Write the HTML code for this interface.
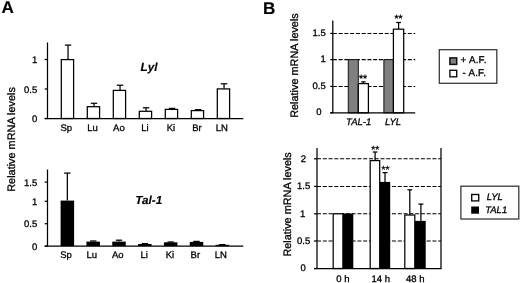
<!DOCTYPE html>
<html><head><meta charset="utf-8"><title>Figure</title>
<style>html,body{margin:0;padding:0;background:#fff;overflow:hidden;}svg{display:block;}</style></head>
<body><svg width="520" height="283" viewBox="0 0 520 283" font-family="'Liberation Sans', sans-serif" text-rendering="geometricPrecision">
<defs><filter id="soft" x="0" y="0" width="520" height="283" filterUnits="userSpaceOnUse"><feGaussianBlur stdDeviation="0.35"/></filter></defs>
<rect x="0" y="0" width="520" height="283" fill="#ffffff"/>
<g filter="url(#soft)">
<text x="1.45" y="13.4" font-size="17.1" text-anchor="start" font-weight="bold" font-style="normal" fill="#000" stroke="#000" stroke-width="0.15">A</text>
<text x="263.1" y="13.5" font-size="17.1" text-anchor="start" font-weight="bold" font-style="normal" fill="#000" stroke="#000" stroke-width="0.15">B</text>
<line x1="47.5" y1="42.5" x2="47.5" y2="119.0" stroke="#000" stroke-width="1.25"/>
<line x1="44.7" y1="118.5" x2="243.3" y2="118.5" stroke="#000" stroke-width="1.25"/>
<line x1="44.7" y1="59.5" x2="47.5" y2="59.5" stroke="#000" stroke-width="1.25"/>
<text x="37.3" y="63.0" font-size="9.5" text-anchor="end" font-weight="normal" font-style="normal" fill="#000" stroke="#000" stroke-width="0.3">1</text>
<line x1="44.7" y1="89.0" x2="47.5" y2="89.0" stroke="#000" stroke-width="1.25"/>
<text x="37.3" y="92.5" font-size="9.5" text-anchor="end" font-weight="normal" font-style="normal" fill="#000" stroke="#000" stroke-width="0.3">0.5</text>
<line x1="44.7" y1="118.5" x2="47.5" y2="118.5" stroke="#000" stroke-width="1.25"/>
<text x="37.3" y="122.0" font-size="9.5" text-anchor="end" font-weight="normal" font-style="normal" fill="#000" stroke="#000" stroke-width="0.3">0</text>
<line x1="68.04999999999998" y1="45.1" x2="68.04999999999998" y2="59.6" stroke="#000" stroke-width="1.25"/>
<line x1="64.84999999999998" y1="45.1" x2="71.24999999999999" y2="45.1" stroke="#000" stroke-width="1.25"/>
<rect x="61.3" y="59.6" width="12.3" height="58.9" fill="#fff" stroke="#000" stroke-width="1.25"/>
<text x="66.3" y="131.4" font-size="9.5" text-anchor="middle" font-weight="normal" font-style="normal" fill="#000" stroke="#000" stroke-width="0.3">Sp</text>
<line x1="94.04999999999998" y1="103.3" x2="94.04999999999998" y2="106.7" stroke="#000" stroke-width="1.25"/>
<line x1="90.84999999999998" y1="103.3" x2="97.24999999999999" y2="103.3" stroke="#000" stroke-width="1.25"/>
<rect x="87.3" y="106.7" width="12.3" height="11.8" fill="#fff" stroke="#000" stroke-width="1.25"/>
<text x="92.6" y="131.4" font-size="9.5" text-anchor="middle" font-weight="normal" font-style="normal" fill="#000" stroke="#000" stroke-width="0.3">Lu</text>
<line x1="120.04999999999998" y1="85.2" x2="120.04999999999998" y2="90.4" stroke="#000" stroke-width="1.25"/>
<line x1="116.84999999999998" y1="85.2" x2="123.24999999999999" y2="85.2" stroke="#000" stroke-width="1.25"/>
<rect x="113.3" y="90.4" width="12.3" height="28.1" fill="#fff" stroke="#000" stroke-width="1.25"/>
<text x="118.9" y="131.4" font-size="9.5" text-anchor="middle" font-weight="normal" font-style="normal" fill="#000" stroke="#000" stroke-width="0.3">Ao</text>
<line x1="146.05" y1="107.8" x2="146.05" y2="111.3" stroke="#000" stroke-width="1.25"/>
<line x1="142.85000000000002" y1="107.8" x2="149.25" y2="107.8" stroke="#000" stroke-width="1.25"/>
<rect x="139.3" y="111.3" width="12.3" height="7.2" fill="#fff" stroke="#000" stroke-width="1.25"/>
<text x="145.0" y="131.4" font-size="9.5" text-anchor="middle" font-weight="normal" font-style="normal" fill="#000" stroke="#000" stroke-width="0.3">Li</text>
<line x1="172.05" y1="108.4" x2="172.05" y2="109.4" stroke="#000" stroke-width="1.25"/>
<line x1="168.85000000000002" y1="108.4" x2="175.25" y2="108.4" stroke="#000" stroke-width="1.25"/>
<rect x="165.3" y="109.4" width="12.3" height="9.1" fill="#fff" stroke="#000" stroke-width="1.25"/>
<text x="170.9" y="131.4" font-size="9.5" text-anchor="middle" font-weight="normal" font-style="normal" fill="#000" stroke="#000" stroke-width="0.3">Ki</text>
<line x1="198.05" y1="109.6" x2="198.05" y2="110.6" stroke="#000" stroke-width="1.25"/>
<line x1="194.85000000000002" y1="109.6" x2="201.25" y2="109.6" stroke="#000" stroke-width="1.25"/>
<rect x="191.3" y="110.6" width="12.3" height="7.9" fill="#fff" stroke="#000" stroke-width="1.25"/>
<text x="197.0" y="131.4" font-size="9.5" text-anchor="middle" font-weight="normal" font-style="normal" fill="#000" stroke="#000" stroke-width="0.3">Br</text>
<line x1="224.05" y1="83.8" x2="224.05" y2="88.9" stroke="#000" stroke-width="1.25"/>
<line x1="220.85000000000002" y1="83.8" x2="227.25" y2="83.8" stroke="#000" stroke-width="1.25"/>
<rect x="217.3" y="88.9" width="12.3" height="29.6" fill="#fff" stroke="#000" stroke-width="1.25"/>
<text x="221.8" y="131.4" font-size="9.5" text-anchor="middle" font-weight="normal" font-style="normal" fill="#000" stroke="#000" stroke-width="0.3">LN</text>
<text x="149" y="71.3" font-size="11.8" text-anchor="middle" font-weight="bold" font-style="italic" fill="#000" stroke="#000" stroke-width="0.15">Lyl</text>
<text x="14.6" y="139.4" font-size="10.9" text-anchor="middle" font-weight="normal" font-style="normal" fill="#000" stroke="#000" stroke-width="0.3" transform="rotate(-90 14.6 139.4)">Relative mRNA levels</text>
<line x1="47.5" y1="169.5" x2="47.5" y2="246.6" stroke="#000" stroke-width="1.25"/>
<line x1="44.7" y1="246.1" x2="243.3" y2="246.1" stroke="#000" stroke-width="1.25"/>
<line x1="44.7" y1="182.1" x2="47.5" y2="182.1" stroke="#000" stroke-width="1.25"/>
<text x="37.3" y="185.6" font-size="9.5" text-anchor="end" font-weight="normal" font-style="normal" fill="#000" stroke="#000" stroke-width="0.3">1.5</text>
<line x1="44.7" y1="201.3" x2="47.5" y2="201.3" stroke="#000" stroke-width="1.25"/>
<text x="37.3" y="204.8" font-size="9.5" text-anchor="end" font-weight="normal" font-style="normal" fill="#000" stroke="#000" stroke-width="0.3">1</text>
<line x1="44.7" y1="223.7" x2="47.5" y2="223.7" stroke="#000" stroke-width="1.25"/>
<text x="37.3" y="227.2" font-size="9.5" text-anchor="end" font-weight="normal" font-style="normal" fill="#000" stroke="#000" stroke-width="0.3">0.5</text>
<line x1="44.7" y1="246.1" x2="47.5" y2="246.1" stroke="#000" stroke-width="1.25"/>
<text x="37.3" y="249.6" font-size="9.5" text-anchor="end" font-weight="normal" font-style="normal" fill="#000" stroke="#000" stroke-width="0.3">0</text>
<line x1="67.35" y1="173.1" x2="67.35" y2="200.6" stroke="#000" stroke-width="1.25"/>
<line x1="64.14999999999999" y1="173.1" x2="70.55" y2="173.1" stroke="#000" stroke-width="1.25"/>
<rect x="60.6" y="200.6" width="13.5" height="45.5" fill="#000"/>
<text x="66.0" y="257.5" font-size="9.5" text-anchor="middle" font-weight="normal" font-style="normal" fill="#000" stroke="#000" stroke-width="0.3">Sp</text>
<line x1="93.18" y1="241.0" x2="93.18" y2="241.6" stroke="#000" stroke-width="1.25"/>
<line x1="89.98" y1="241.0" x2="96.38000000000001" y2="241.0" stroke="#000" stroke-width="1.25"/>
<rect x="86.43" y="241.6" width="13.5" height="4.5" fill="#000"/>
<text x="91.69999999999999" y="257.5" font-size="9.5" text-anchor="middle" font-weight="normal" font-style="normal" fill="#000" stroke="#000" stroke-width="0.3">Lu</text>
<line x1="119.00999999999999" y1="240.2" x2="119.00999999999999" y2="241.6" stroke="#000" stroke-width="1.25"/>
<line x1="115.80999999999999" y1="240.2" x2="122.21" y2="240.2" stroke="#000" stroke-width="1.25"/>
<rect x="112.26" y="241.6" width="13.5" height="4.5" fill="#000"/>
<text x="117.80000000000001" y="257.5" font-size="9.5" text-anchor="middle" font-weight="normal" font-style="normal" fill="#000" stroke="#000" stroke-width="0.3">Ao</text>
<line x1="144.84" y1="243.6" x2="144.84" y2="244.0" stroke="#000" stroke-width="1.25"/>
<line x1="141.64000000000001" y1="243.6" x2="148.04" y2="243.6" stroke="#000" stroke-width="1.25"/>
<rect x="138.09" y="244.0" width="13.5" height="2.1" fill="#000"/>
<text x="144.1" y="257.5" font-size="9.5" text-anchor="middle" font-weight="normal" font-style="normal" fill="#000" stroke="#000" stroke-width="0.3">Li</text>
<line x1="170.67" y1="242.0" x2="170.67" y2="242.3" stroke="#000" stroke-width="1.25"/>
<line x1="167.47" y1="242.0" x2="173.86999999999998" y2="242.0" stroke="#000" stroke-width="1.25"/>
<rect x="163.92" y="242.3" width="13.5" height="3.8" fill="#000"/>
<text x="170.0" y="257.5" font-size="9.5" text-anchor="middle" font-weight="normal" font-style="normal" fill="#000" stroke="#000" stroke-width="0.3">Ki</text>
<line x1="196.49999999999997" y1="241.4" x2="196.49999999999997" y2="241.9" stroke="#000" stroke-width="1.25"/>
<line x1="193.29999999999998" y1="241.4" x2="199.69999999999996" y2="241.4" stroke="#000" stroke-width="1.25"/>
<rect x="189.75" y="241.9" width="13.5" height="4.2" fill="#000"/>
<text x="195.3" y="257.5" font-size="9.5" text-anchor="middle" font-weight="normal" font-style="normal" fill="#000" stroke="#000" stroke-width="0.3">Br</text>
<line x1="222.32999999999998" y1="244.6" x2="222.32999999999998" y2="244.8" stroke="#000" stroke-width="1.25"/>
<line x1="219.13" y1="244.6" x2="225.52999999999997" y2="244.6" stroke="#000" stroke-width="1.25"/>
<rect x="215.58" y="244.8" width="13.5" height="1.3" fill="#000"/>
<text x="220.9" y="257.5" font-size="9.5" text-anchor="middle" font-weight="normal" font-style="normal" fill="#000" stroke="#000" stroke-width="0.3">LN</text>
<text x="148.8" y="203.5" font-size="11.7" text-anchor="middle" font-weight="bold" font-style="italic" fill="#000" stroke="#000" stroke-width="0.15">Tal-1</text>
<line x1="332.8" y1="33.4" x2="415.2" y2="33.4" stroke="#000" stroke-width="1.05" stroke-dasharray="4.05 1.72"/>
<line x1="332.8" y1="59.6" x2="415.2" y2="59.6" stroke="#000" stroke-width="1.05" stroke-dasharray="4.05 1.72"/>
<line x1="332.8" y1="86.4" x2="415.2" y2="86.4" stroke="#000" stroke-width="1.05" stroke-dasharray="4.05 1.72"/>
<rect x="348.3" y="59.6" width="10.0" height="53.2" fill="#808080" stroke="#111" stroke-width="1"/>
<line x1="363.4" y1="81.8" x2="363.4" y2="83.6" stroke="#000" stroke-width="1.25"/>
<line x1="361.2" y1="81.8" x2="365.59999999999997" y2="81.8" stroke="#000" stroke-width="1.25"/>
<rect x="358.3" y="83.6" width="10.1" height="29.2" fill="#fff" stroke="#000" stroke-width="1.25"/>
<rect x="383.9" y="59.6" width="9.5" height="53.2" fill="#808080" stroke="#111" stroke-width="1"/>
<line x1="398.6" y1="22.5" x2="398.6" y2="29.2" stroke="#000" stroke-width="1.25"/>
<line x1="396.20000000000005" y1="22.5" x2="401.0" y2="22.5" stroke="#000" stroke-width="1.25"/>
<rect x="393.4" y="29.2" width="10.3" height="83.6" fill="#fff" stroke="#000" stroke-width="1.25"/>
<line x1="332.8" y1="20.4" x2="332.8" y2="113.3" stroke="#000" stroke-width="1.25"/>
<line x1="330.3" y1="112.8" x2="415.2" y2="112.8" stroke="#000" stroke-width="1.25"/>
<line x1="330.3" y1="33.4" x2="332.8" y2="33.4" stroke="#000" stroke-width="1.25"/>
<text x="325.8" y="35.8" font-size="9.5" text-anchor="end" font-weight="normal" font-style="normal" fill="#000" stroke="#000" stroke-width="0.3">1.5</text>
<line x1="330.3" y1="59.6" x2="332.8" y2="59.6" stroke="#000" stroke-width="1.25"/>
<text x="325.8" y="62.0" font-size="9.5" text-anchor="end" font-weight="normal" font-style="normal" fill="#000" stroke="#000" stroke-width="0.3">1</text>
<line x1="330.3" y1="86.4" x2="332.8" y2="86.4" stroke="#000" stroke-width="1.25"/>
<text x="325.8" y="88.80000000000001" font-size="9.5" text-anchor="end" font-weight="normal" font-style="normal" fill="#000" stroke="#000" stroke-width="0.3">0.5</text>
<line x1="330.3" y1="112.8" x2="332.8" y2="112.8" stroke="#000" stroke-width="1.25"/>
<text x="321.6" y="115.2" font-size="9.5" text-anchor="end" font-weight="normal" font-style="normal" fill="#000" stroke="#000" stroke-width="0.3">0</text>
<text x="363.1" y="82.4" font-size="10.5" text-anchor="middle" font-weight="normal" font-style="normal" fill="#000" stroke="#000" stroke-width="0.3">**</text>
<text x="398.6" y="22.3" font-size="10.5" text-anchor="middle" font-weight="normal" font-style="normal" fill="#000" stroke="#000" stroke-width="0.3">**</text>
<text x="358.7" y="124.7" font-size="9.5" text-anchor="middle" font-weight="normal" font-style="italic" fill="#000" stroke="#000" stroke-width="0.3">TAL-1</text>
<text x="393.0" y="124.7" font-size="9.5" text-anchor="middle" font-weight="normal" font-style="italic" fill="#000" stroke="#000" stroke-width="0.3">LYL</text>
<text x="297.8" y="65.5" font-size="10.89" text-anchor="middle" font-weight="normal" font-style="normal" fill="#000" stroke="#000" stroke-width="0.3" transform="rotate(-90 297.8 65.5)">Relative mRNA levels</text>
<rect x="439.3" y="49.7" width="57.5" height="33.6" fill="#fff" stroke="#333" stroke-width="1.25"/>
<rect x="449.9" y="57.9" width="6.8" height="6.5" fill="#808080" stroke="#111" stroke-width="1.5"/>
<rect x="449.9" y="70.3" width="6.8" height="6.5" fill="#fff" stroke="#111" stroke-width="1.4"/>
<text letter-spacing="0.2" x="460.6" y="63.4" font-size="9.8" text-anchor="start" font-weight="normal" font-style="normal" fill="#000" stroke="#000" stroke-width="0.3">+ A.F.</text>
<text letter-spacing="0.2" x="462.6" y="76.0" font-size="9.8" text-anchor="start" font-weight="normal" font-style="normal" fill="#000" stroke="#000" stroke-width="0.3">- A.F.</text>
<line x1="317.0" y1="158.8" x2="441" y2="158.8" stroke="#000" stroke-width="1.05" stroke-dasharray="4.05 1.72"/>
<line x1="317.0" y1="186.4" x2="441" y2="186.4" stroke="#000" stroke-width="1.05" stroke-dasharray="4.05 1.72"/>
<line x1="317.0" y1="213.8" x2="441" y2="213.8" stroke="#000" stroke-width="1.05" stroke-dasharray="4.05 1.72"/>
<line x1="317.0" y1="241.0" x2="441" y2="241.0" stroke="#000" stroke-width="1.05" stroke-dasharray="4.05 1.72"/>
<rect x="333.2" y="213.8" width="9.7" height="54.7" fill="#fff" stroke="#000" stroke-width="1.25"/>
<rect x="342.9" y="213.5" width="10.4" height="55.0" fill="#000"/>
<line x1="375.1" y1="152.0" x2="375.1" y2="160.6" stroke="#000" stroke-width="1.25"/>
<line x1="372.8" y1="152.0" x2="377.40000000000003" y2="152.0" stroke="#000" stroke-width="1.25"/>
<rect x="370.2" y="160.6" width="9.5" height="107.9" fill="#fff" stroke="#000" stroke-width="1.25"/>
<line x1="385.0" y1="172.6" x2="385.0" y2="182.0" stroke="#000" stroke-width="1.25"/>
<line x1="382.5" y1="172.6" x2="387.5" y2="172.6" stroke="#000" stroke-width="1.25"/>
<rect x="379.7" y="181.9" width="10.5" height="86.6" fill="#000"/>
<line x1="409.8" y1="189.8" x2="409.8" y2="215.0" stroke="#000" stroke-width="1.25"/>
<line x1="407.40000000000003" y1="189.8" x2="412.2" y2="189.8" stroke="#000" stroke-width="1.25"/>
<rect x="404.8" y="215.0" width="10.0" height="53.5" fill="#fff" stroke="#000" stroke-width="1.25"/>
<line x1="420.9" y1="204.1" x2="420.9" y2="221.0" stroke="#000" stroke-width="1.25"/>
<line x1="418.4" y1="204.1" x2="423.4" y2="204.1" stroke="#000" stroke-width="1.25"/>
<rect x="414.8" y="220.9" width="10.9" height="47.6" fill="#000"/>
<line x1="317.0" y1="148" x2="317.0" y2="269.0" stroke="#000" stroke-width="1.25"/>
<line x1="441" y1="148" x2="441" y2="269.0" stroke="#000" stroke-width="1.25"/>
<line x1="314" y1="268.5" x2="441.5" y2="268.5" stroke="#000" stroke-width="1.25"/>
<line x1="314" y1="158.8" x2="317.0" y2="158.8" stroke="#000" stroke-width="1.25"/>
<line x1="314" y1="186.4" x2="317.0" y2="186.4" stroke="#000" stroke-width="1.25"/>
<line x1="314" y1="213.8" x2="317.0" y2="213.8" stroke="#000" stroke-width="1.25"/>
<line x1="314" y1="241.0" x2="317.0" y2="241.0" stroke="#000" stroke-width="1.25"/>
<line x1="314" y1="268.5" x2="317.0" y2="268.5" stroke="#000" stroke-width="1.25"/>
<text x="306.1" y="161.60000000000002" font-size="9.5" text-anchor="end" font-weight="normal" font-style="normal" fill="#000" stroke="#000" stroke-width="0.3">2</text>
<text x="310.3" y="189.20000000000002" font-size="9.5" text-anchor="end" font-weight="normal" font-style="normal" fill="#000" stroke="#000" stroke-width="0.3">1.5</text>
<text x="305.3" y="216.60000000000002" font-size="9.5" text-anchor="end" font-weight="normal" font-style="normal" fill="#000" stroke="#000" stroke-width="0.3">1</text>
<text x="310.3" y="243.8" font-size="9.5" text-anchor="end" font-weight="normal" font-style="normal" fill="#000" stroke="#000" stroke-width="0.3">0.5</text>
<text x="305.90000000000003" y="271.3" font-size="9.5" text-anchor="end" font-weight="normal" font-style="normal" fill="#000" stroke="#000" stroke-width="0.3">0</text>
<text x="375.2" y="153.0" font-size="10.3" text-anchor="middle" font-weight="normal" font-style="normal" fill="#000" stroke="#000" stroke-width="0.3">**</text>
<text x="385.5" y="173.1" font-size="10.3" text-anchor="middle" font-weight="normal" font-style="normal" fill="#000" stroke="#000" stroke-width="0.3">**</text>
<text x="342.9" y="281.8" font-size="9.5" text-anchor="middle" font-weight="normal" font-style="normal" fill="#000" stroke="#000" stroke-width="0.3">0 h</text>
<text x="380.7" y="281.8" font-size="9.5" text-anchor="middle" font-weight="normal" font-style="normal" fill="#000" stroke="#000" stroke-width="0.3">14 h</text>
<text x="415.3" y="281.8" font-size="9.5" text-anchor="middle" font-weight="normal" font-style="normal" fill="#000" stroke="#000" stroke-width="0.3">48 h</text>
<text x="291.5" y="204.4" font-size="10.87" text-anchor="middle" font-weight="normal" font-style="normal" fill="#000" stroke="#000" stroke-width="0.3" transform="rotate(-90 291.5 204.4)">Relative mRNA levels</text>
<rect x="460.9" y="186.2" width="57.9" height="32.8" fill="#fff" stroke="#333" stroke-width="1.25"/>
<rect x="471.7" y="194.5" width="7.0" height="6.4" fill="#fff" stroke="#111" stroke-width="1.4"/>
<rect x="471.2" y="206.5" width="7.8" height="7.2" fill="#000"/>
<text x="486.8" y="200.2" font-size="9.5" text-anchor="start" font-weight="normal" font-style="italic" fill="#000" stroke="#000" stroke-width="0.3">LYL</text>
<text x="485.2" y="212.7" font-size="9.5" text-anchor="start" font-weight="normal" font-style="italic" fill="#000" stroke="#000" stroke-width="0.3">TAL1</text>
</g>
</svg></body></html>
